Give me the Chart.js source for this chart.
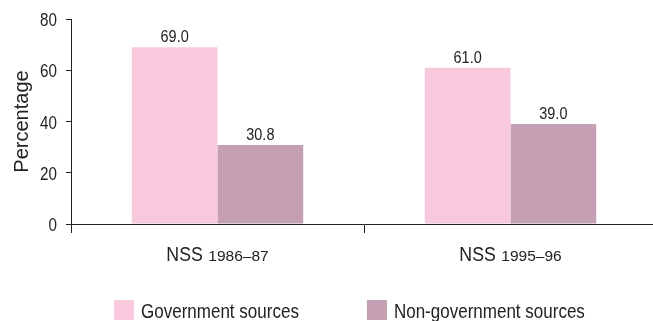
<!DOCTYPE html>
<html>
<head>
<meta charset="utf-8">
<script src="https://cdn.jsdelivr.net/npm/chart.js@4/dist/chart.umd.min.js"></script>
<style>
  html, body { margin: 0; padding: 0; background: #fff; }
  #wrap { width: 653px; height: 321px; overflow: hidden; }
</style>
</head>
<body>
<!-- canvas is a few px wider than the window: the x axis runs off the right edge like in the original -->
<div id="wrap"><canvas id="mychart" width="657" height="321"></canvas></div>
<script>
//DATA---------------------------------------------------------------
const surveys = ["NSS", "NSS"];
const surveyYears = ["1986–87", "1995–96"];
const seriesNames = ["Government sources", "Non-government sources"];
const govSources = [69.0, 61.0];
const nonGovSources = [30.8, 39.0];
const yTicks = [0, 20, 40, 60, 80];
//-------------------------------------------------------------------

const FONT = "'Liberation Sans', Arial, sans-serif";
const INK = "#222";

// draw text squeezed horizontally by k, x is the left edge
function narrowText(ctx, text, x, y, size, k) {
  ctx.save();
  ctx.font = size + "px " + FONT;
  ctx.textAlign = "left";
  ctx.textBaseline = "alphabetic";
  ctx.translate(x, y);
  ctx.scale(k, 1);
  ctx.fillText(text, 0, 0);
  ctx.restore();
}
function narrowWidth(ctx, text, size, k) {
  ctx.save();
  ctx.font = size + "px " + FONT;
  const w = ctx.measureText(text).width * k;
  ctx.restore();
  return w;
}

//value labels above bars
const valueLabels = {
  id: "valueLabels",
  afterDatasetsDraw(chart) {
    const ctx = chart.ctx;
    ctx.fillStyle = INK;
    chart.data.datasets.forEach((ds, i) => {
      chart.getDatasetMeta(i).data.forEach((bar, j) => {
        const t = ds.data[j].toFixed(1);
        narrowText(ctx, t, bar.x - narrowWidth(ctx, t, 17, 0.85) / 2, bar.y - 5, 17, 0.85);
      });
    });
  }
};

//y tick labels, right aligned
const yLabels = {
  id: "yLabels",
  afterDraw(chart) {
    const ctx = chart.ctx;
    const sy = chart.scales.y;
    ctx.fillStyle = INK;
    yTicks.forEach((v) => {
      const t = String(v);
      const py = sy.getPixelForValue(v);
      narrowText(ctx, t, sy.right - 14 - narrowWidth(ctx, t, 19, 0.8), py + 7, 19, 0.8);
    });
  }
};

//x labels: "NSS" larger, years smaller
const xLabels = {
  id: "xLabels",
  afterDraw(chart) {
    const ctx = chart.ctx;
    const sx = chart.scales.x;
    ctx.fillStyle = INK;
    const y = sx.top + 37;
    surveys.forEach((s, i) => {
      const cx = sx.getPixelForTick(i);
      const w1 = narrowWidth(ctx, s, 19.5, 0.91) + 5.5;
      const w2 = narrowWidth(ctx, surveyYears[i], 15.5, 1);
      const x = cx - (w1 + w2) / 2;
      narrowText(ctx, s, x, y, 19.5, 0.91);
      narrowText(ctx, surveyYears[i], x + w1, y, 15.5, 1);
    });
  }
};

//legend under the chart
const bottomLegend = {
  id: "bottomLegend",
  afterDraw(chart) {
    const ctx = chart.ctx;
    let x = 114;
    const boxTop = chart.scales.x.top + 76;
    chart.data.datasets.forEach((ds) => {
      ctx.fillStyle = ds.backgroundColor;
      ctx.fillRect(x, boxTop, 20, 20);
      ctx.fillStyle = INK;
      narrowText(ctx, ds.label, x + 27, boxTop + 18, 21, 0.81);
      x += 27 + narrowWidth(ctx, ds.label, 21, 0.81) + 68;
    });
  }
};

function bar() {
  const data = {
    labels: surveys.map((s, i) => s + " " + surveyYears[i]),
    datasets: [
      {
        label: seriesNames[0],
        data: govSources,
        backgroundColor: "#f8c8dc",
        categoryPercentage: 0.585,
        barPercentage: 1.0
      },
      {
        label: seriesNames[1],
        data: nonGovSources,
        backgroundColor: "#c4a0b2",
        categoryPercentage: 0.585,
        barPercentage: 1.0
      }
    ]
  };

  const config = {
    type: "bar",
    data: data,
    options: {
      responsive: false,
      animation: false,
      layout: { padding: { left: 0, right: 0, top: 19, bottom: 0 } },
      plugins: {
        legend: { display: false },
        tooltip: { enabled: false }
      },
      scales: {
        x: {
          afterFit(scale) { scale.height = 97; },
          grid: { display: true, drawOnChartArea: false, offset: true, tickLength: 9, color: INK, tickColor: INK },
          border: { color: INK, width: 1 },
          ticks: { display: false }
        },
        y: {
          min: 0,
          max: 80,
          afterBuildTicks(scale) { scale.ticks = yTicks.map(v => ({ value: v })); },
          afterFit(scale) { scale.width = 71; },
          grid: { display: true, drawOnChartArea: false, tickLength: 5, color: INK, tickColor: INK },
          border: { color: INK, width: 1 },
          ticks: { display: false },
          title: { display: true, text: "Percentage", color: INK, font: { family: FONT, size: 20 }, padding: { top: 10, bottom: 0 } }
        }
      }
    },
    plugins: [valueLabels, yLabels, xLabels, bottomLegend]
  };

  const myChart = new Chart(document.getElementById("mychart"), config);
}

const barChart = bar();
</script>
</body>
</html>
